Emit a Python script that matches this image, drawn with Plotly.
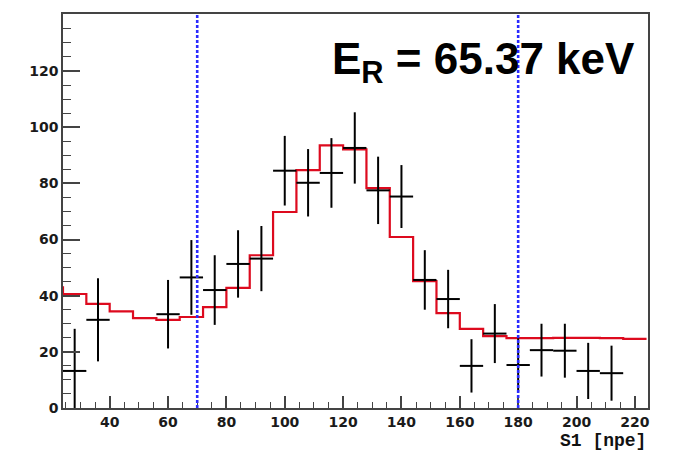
import plotly.graph_objects as go

# data points (background-subtracted counts)
pt_x = [28, 36, 60, 68, 76, 84, 92, 100, 108, 116, 124, 132, 140, 148, 156, 164, 172, 180, 188, 196, 204, 212]
pt_y = [13.2, 31.4, 33.4, 46.5, 42.0, 51.3, 53.2, 84.5, 80.2, 83.7, 92.6, 77.5, 75.3, 45.6, 38.8, 15.0, 26.5, 15.3, 20.6, 20.4, 13.2, 12.4]
pt_err = [15.0, 14.8, 12.2, 13.3, 12.4, 12.0, 11.6, 12.4, 12.0, 12.4, 12.7, 12.0, 11.2, 10.6, 10.4, 9.5, 10.5, 9.5, 9.4, 9.6, 10.0, 9.8]
bin_half = 4

# model histogram (bin lower edges and contents)
h_edges = [16, 24, 32, 40, 48, 56, 64, 72, 80, 88, 96, 104, 112, 120, 128, 136, 144, 152, 160, 168, 176, 184, 192, 200, 208, 216, 224]
h_vals = [43.0, 40.6, 37.1, 34.4, 32.0, 31.4, 32.4, 35.9, 42.8, 54.4, 69.8, 84.7, 93.5, 92.1, 78.3, 60.9, 45.2, 33.8, 28.2, 25.6, 24.9, 24.9, 25.0, 25.0, 24.9, 24.6]

cut_lines = [70, 180]
x_ticks = [40, 60, 80, 100, 120, 140, 160, 180, 200, 220]
y_ticks = [0, 20, 40, 60, 80, 100, 120]

hx = h_edges
hy = h_vals + [h_vals[-1]]

fig = go.Figure()
fig.add_trace(go.Scatter(x=hx, y=hy, mode="lines", line=dict(color="#dd0a1e", width=2.2, shape="hv"),
                         showlegend=False, hoverinfo="skip"))
fig.add_trace(go.Scatter(
    x=pt_x, y=pt_y, mode="markers", marker=dict(size=0.1, color="black"),
    error_y=dict(type="data", array=pt_err, visible=True, color="black", thickness=2, width=0),
    error_x=dict(type="constant", value=bin_half, visible=True, color="black", thickness=2, width=0),
    showlegend=False))

for cx in cut_lines:
    fig.add_shape(type="line", x0=cx, x1=cx, y0=0, y1=1, xref="x", yref="paper",
                  line=dict(color="#2a2aff", width=2.6, dash="3px,2px"))

fig.add_annotation(x=1.0, xref="paper", y=-0.083, yref="paper", xanchor="right", yanchor="middle",
                   text="<b>S1 [npe]</b>", showarrow=False,
                   font=dict(family="Liberation Mono", size=18, color="#111"))
fig.add_annotation(x=0.981, xref="paper", y=0.877, yref="paper", xanchor="right", yanchor="middle",
                   text="<b>E<sub>R</sub> = 65.37 keV</b>", showarrow=False,
                   font=dict(family="Liberation Sans", size=44, color="black"))

tickfont = dict(family="DejaVu Sans", size=14, color="#1a1a1a")
fig.update_layout(
    width=673, height=452,
    margin=dict(l=63, r=25, t=12, b=44),
    paper_bgcolor="white", plot_bgcolor="white",
    font=dict(family="DejaVu Sans", size=14, color="#222222"),
    xaxis=dict(range=[24, 224.5], tickvals=x_ticks, ticktext=["<b>%d</b>" % v for v in x_ticks],
               ticks="inside", ticklen=12, tickwidth=1.5,
               tickcolor="#444", showgrid=False, zeroline=False, showline=True, linecolor="#444",
               linewidth=1.5, mirror=True, tickfont=tickfont,
               minor=dict(dtick=5, tick0=0, ticks="inside", ticklen=6, tickcolor="#444", tickwidth=1.2, showgrid=False)),
    yaxis=dict(range=[0, 140.3], tickvals=y_ticks, ticktext=["<b>%d</b>" % v for v in y_ticks],
               ticks="inside", ticklen=17, tickwidth=1.5,
               tickcolor="#444", showgrid=False, zeroline=False, showline=True, linecolor="#444",
               linewidth=1.5, mirror=True, tickfont=tickfont,
               minor=dict(dtick=5, tick0=0, ticks="inside", ticklen=8, tickcolor="#444", tickwidth=1.2, showgrid=False)),
)

fig.write_html("out.html")
